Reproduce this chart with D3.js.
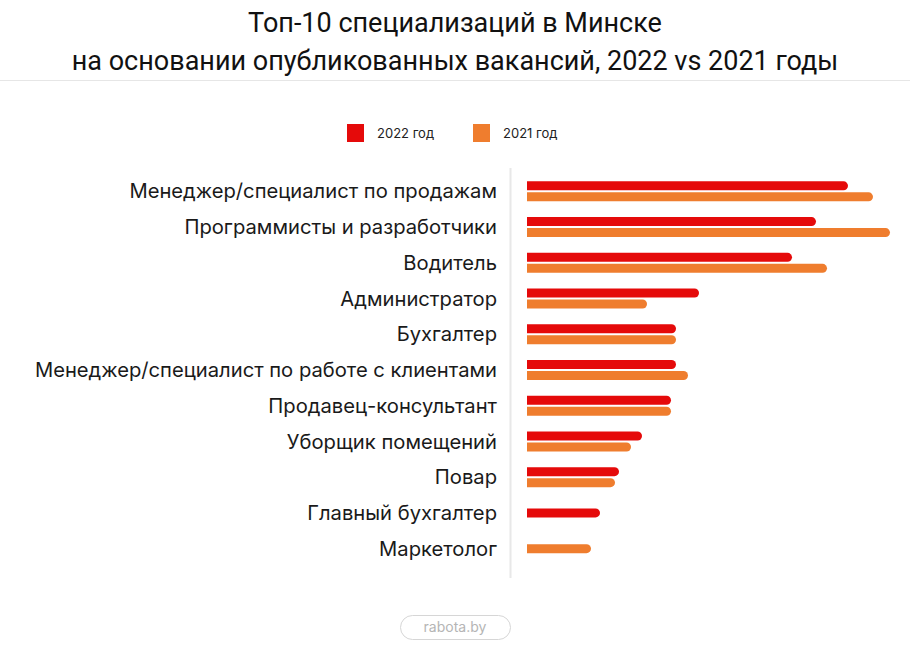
<!DOCTYPE html>
<html>
<head>
<meta charset="utf-8">
<script src="https://cdn.jsdelivr.net/npm/d3@7"></script>
<style>
  body { margin: 0; background: #fff; }
  svg { display: block; font-family: Roboto, "Noto Sans", sans-serif; }
</style>
</head>
<body>
<div class="chart"></div>
<script>
// values (relative units)
const categories = [
  "Менеджер/специалист по продажам",
  "Программисты и разработчики",
  "Водитель",
  "Администратор",
  "Бухгалтер",
  "Менеджер/специалист по работе с клиентами",
  "Продавец-консультант",
  "Уборщик помещений",
  "Повар",
  "Главный бухгалтер",
  "Маркетолог"
];
const values2022 = [321, 289, 265, 172, 149, 149, 144, 115, 92, 73, null];
const values2021 = [346, 363, 300, 120, 149, 161, 144, 104, 88, null, 64];
const seriesNames = ["2022 год", "2021 год"];
const colors = ["#e50a0a", "#ef7d2e"];

const width = 910, height = 655;
const svg = d3.select(".chart").append("svg")
  .attr("width", width).attr("height", height);

// title
const title = svg.append("text")
  .attr("text-anchor", "middle")
  .style("font-size", "27px")
  .style("font-weight", 400)
  .attr("fill", "#111");
title.append("tspan").attr("x", width / 2).attr("y", 32).text("Топ-10 специализаций в Минске");
title.append("tspan").attr("x", width / 2).attr("y", 70).text("на основании опубликованных вакансий, 2022 vs 2021 годы");

svg.append("line")
  .attr("x1", 0).attr("x2", width).attr("y1", 80.5).attr("y2", 80.5)
  .attr("stroke", "#e6e6e6");

// legend
const legend = svg.selectAll(".legend")
  .data(seriesNames)
  .join("g")
  .attr("transform", (d, i) => `translate(${347 + i * 126}, 124)`);
legend.append("rect")
  .attr("width", 17).attr("height", 18)
  .attr("fill", (d, i) => colors[i]);
legend.append("text")
  .attr("x", 30).attr("y", 14)
  .style("font-family", "Inter, Roboto, sans-serif")
  .style("font-size", "13px")
  .attr("fill", "#222")
  .text((d) => d);

// scales
const xScale = d3.scaleLinear().domain([0, 363]).range([527, 890]);
const yScale = d3.scaleBand()
  .domain(categories)
  .range([173.5, 566.5])
  .paddingInner(0);

const barH = 9, gap = 2;

svg.append("line")
  .attr("x1", 510.5).attr("x2", 510.5).attr("y1", 168).attr("y2", 578)
  .attr("stroke", "#e8e8e8").attr("stroke-width", 2);

const rows = svg.selectAll(".row")
  .data(categories.map((c, i) => ({ name: c, v: [values2022[i], values2021[i]] })))
  .join("g")
  .attr("transform", (d) => `translate(0, ${yScale(d.name)})`);

rows.append("text")
  .attr("x", 497)
  .attr("y", yScale.bandwidth() / 2)
  .attr("dy", "0.35em")
  .attr("text-anchor", "end")
  .style("font-family", "Inter, Roboto, sans-serif")
  .style("font-size", "20.2px")
  .attr("fill", "#1a1a1a")
  .text((d) => d.name);

// rounded-right bar path
const barPath = (x0, x1, y, h) => {
  const r = h / 2;
  return `M${x0},${y}H${x1 - r}A${r},${r} 0 0 1 ${x1 - r},${y + h}H${x0}Z`;
};

rows.each(function (d) {
  const g = d3.select(this);
  const present = d.v.map((v, i) => ({ v, i })).filter((e) => e.v != null);
  const total = present.length * barH + (present.length - 1) * gap;
  const top = yScale.bandwidth() / 2 - total / 2;
  g.selectAll("path")
    .data(present)
    .join("path")
    .attr("fill", (e) => colors[e.i])
    .attr("d", (e, k) => barPath(xScale(0), xScale(e.v), top + k * (barH + gap), barH));
});

// footer
svg.append("rect")
  .attr("x", 400.5).attr("y", 615.5).attr("width", 110).attr("height", 24).attr("rx", 12)
  .attr("fill", "none").attr("stroke", "#d6d6d6");
svg.append("text")
  .attr("x", 455).attr("y", 632)
  .attr("text-anchor", "middle")
  .style("font-family", "Inter, Roboto, sans-serif")
  .style("font-size", "14px")
  .attr("fill", "#b5b5b5")
  .text("rabota.by");
</script>
</body>
</html>
